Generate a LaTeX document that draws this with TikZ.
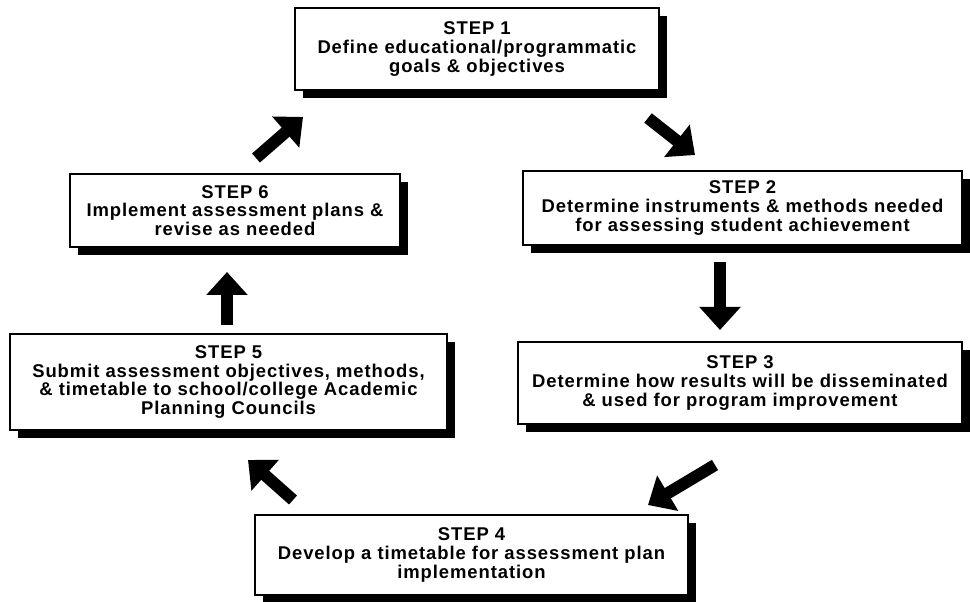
\documentclass[tikz,border=0pt]{standalone}
\usepackage{fontspec}
\setmainfont{Liberation Sans}[LetterSpace=5]
\usetikzlibrary{arrows.meta,shadows}
\begin{document}
\begin{tikzpicture}
[font=\fontsize{10.5}{10.6}\selectfont\bfseries, line join=miter, >={Triangle[width=0.8cm,length=0.46cm]},
stepbox/.style={draw, line width=1.1pt, fill=white, align=center, inner sep=0pt,
  drop shadow={shadow xshift=0.16cm, shadow yshift=-0.16cm, fill=black, opacity=1}},
bigarrow/.style={->, line width=0.24cm}]
\useasboundingbox (0,0) rectangle (19.4,12.04);
\node[stepbox, minimum width=7.28cm, minimum height=1.64cm] (s1) at (9.54,11.06)
  {STEP 1\\Define educational/programmatic\\goals \& objectives};
\node[stepbox, minimum width=8.78cm, minimum height=1.48cm] (s2) at (14.85,7.88)
  {STEP 2\\Determine instruments \& methods needed\\for assessing student achievement};
\node[stepbox, minimum width=8.88cm, minimum height=1.64cm] (s3) at (14.8,4.38)
  {STEP 3\\Determine how results will be disseminated\\\& used for program improvement};
\node[stepbox, minimum width=8.66cm, minimum height=1.6cm] (s4) at (9.43,0.94)
  {STEP 4\\Develop a timetable for assessment plan\\implementation};
\node[stepbox, minimum width=8.74cm, minimum height=1.92cm] (s5) at (4.57,4.40)
  {STEP 5\\Submit assessment objectives, methods,\\\& timetable to school/college Academic\\Planning Councils};
\node[stepbox, minimum width=6.6cm, minimum height=1.46cm] (s6) at (4.70,7.83)
  {STEP 6\\Implement assessment plans \&\\revise as needed};
% arrow ends
\coordinate (t12) at (12.96,9.68); \coordinate (h12) at (13.90,8.94);
\coordinate (t23) at (14.40,6.80); \coordinate (h23) at (14.40,5.44);
\coordinate (t34) at (14.30,2.74); \coordinate (h34) at (12.96,1.94);
\coordinate (t45) at (5.86,2.04);  \coordinate (h45) at (4.96,2.84);
\coordinate (t56) at (4.54,5.54);  \coordinate (h56) at (4.54,6.60);
\coordinate (t61) at (5.12,8.88);  \coordinate (h61) at (6.06,9.70);
\foreach \p in {12,23,34,45,56,61}
\draw[bigarrow] (t\p)--(h\p);
\end{tikzpicture}
\end{document}
